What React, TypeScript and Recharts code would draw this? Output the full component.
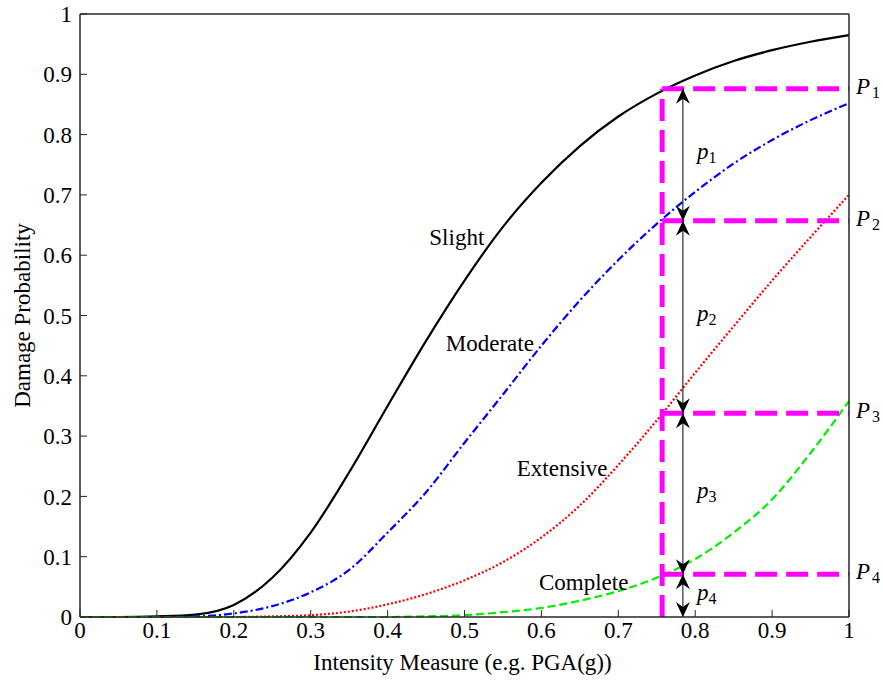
import React from 'react';
import { LineChart, Line, XAxis, YAxis, ReferenceLine, ReferenceDot, Label } from 'recharts';

// intensity measure samples (g)
const pga = [0, 0.05, 0.1, 0.15, 0.2, 0.25, 0.3, 0.35, 0.4, 0.45, 0.5, 0.55, 0.6, 0.65, 0.7, 0.75, 0.8, 0.85, 0.9, 0.95, 1];
const slight = [0, 0, 0.001, 0.004, 0.02, 0.065, 0.14, 0.24, 0.35, 0.458, 0.558, 0.647, 0.72, 0.781, 0.83, 0.868, 0.898, 0.922, 0.94, 0.954, 0.965];
const moderate = [0, 0, 0, 0.001, 0.006, 0.018, 0.041, 0.078, 0.14, 0.207, 0.289, 0.369, 0.45, 0.525, 0.592, 0.652, 0.705, 0.752, 0.791, 0.824, 0.852];
const extensive = [0, 0, 0, 0, 0, 0.001, 0.003, 0.009, 0.021, 0.038, 0.061, 0.091, 0.132, 0.185, 0.252, 0.326, 0.405, 0.482, 0.558, 0.63, 0.7];
const complete = [0, 0, 0, 0, 0, 0, 0, 0, 0, 0.001, 0.003, 0.008, 0.015, 0.027, 0.043, 0.065, 0.096, 0.14, 0.195, 0.272, 0.358];

const xTicks = [0, 0.1, 0.2, 0.3, 0.4, 0.5, 0.6, 0.7, 0.8, 0.9, 1];
const yTicks = [0, 0.1, 0.2, 0.3, 0.4, 0.5, 0.6, 0.7, 0.8, 0.9, 1];

// cut at a given intensity: exceedance levels P1..P4
const cutX = 0.757;
const arrowX = 0.784;
const levels = [0.876, 0.657, 0.338, 0.071];
const levelNames = ['1', '2', '3', '4'];

// curve name labels
const curveNames = ['Slight', 'Moderate', 'Extensive', 'Complete'];
const curveNameX = [0.49, 0.533, 0.627, 0.655];
const curveNameY = [0.63, 0.454, 0.247, 0.058];

const FONT = '"Liberation Serif", "Times New Roman", serif';
const FS = 23;
const AXIS = '#262626';
const MAGENTA = '#ff00ff';

const data = pga.map((x, i) => ({
  x,
  slight: slight[i],
  moderate: moderate[i],
  extensive: extensive[i],
  complete: complete[i],
}));

const SerifTick = (p: any) => (
  <text
    x={p.x}
    y={p.y}
    dy={p.verticalAnchor === 'start' ? '0.71em' : '0.355em'}
    textAnchor={p.textAnchor}
    fontFamily={FONT}
    fontSize={FS}
    fill="#000"
  >
    {String(p.payload.value)}
  </text>
);

const arrowHead = (x: number, tipY: number, dir: number) => {
  // dir -1 = pointing up, 1 = pointing down
  const b = tipY - dir * 15;
  const n = tipY - dir * 10;
  return `M${x},${tipY} L${x - 7},${b} L${x},${n} L${x + 7},${b} Z`;
};

const ArrowShape = (props: any) => {
  const { x1, y1, y2, name } = props;
  const top = Math.min(y1, y2);
  const bot = Math.max(y1, y2);
  const mid = (top + bot) / 2;
  return (
    <g>
      <line x1={x1} y1={top} x2={x1} y2={bot} stroke="#000" strokeWidth={1} />
      <path d={arrowHead(x1, top, -1)} fill="#000" />
      <path d={arrowHead(x1, bot, 1)} fill="#000" />
      <text x={x1 + 14} y={mid + 4} fontFamily={FONT} fontSize={FS} fill="#000">
        <tspan fontStyle="italic">p</tspan>
        <tspan fontSize={16} dy={4}>{name}</tspan>
      </text>
    </g>
  );
};

const LevelShape = (props: any) => {
  const { x1, y1, x2, y2, name } = props;
  return (
    <g>
      <line x1={x1} y1={y1} x2={x2} y2={y2} stroke={MAGENTA} strokeWidth={5} strokeDasharray="22 9" />
      <text x={x2 + 7} y={y2 + 5} fontFamily={FONT} fontSize={FS} fill="#000">
        <tspan fontStyle="italic">P</tspan>
        <tspan fontSize={16} dy={4} dx={2}>{name}</tspan>
      </text>
    </g>
  );
};

export default function App() {
  return (
    <div style={{ position: 'fixed', left: 0, top: 0, background: '#fff', fontFamily: FONT }}>
      <LineChart width={883} height={681} data={data} margin={{ top: 13, right: 33, bottom: 0, left: 0 }}>
        <XAxis
          type="number"
          dataKey="x"
          domain={[0, 1]}
          ticks={xTicks}
          height={64}
          tickSize={-7}
          tickMargin={12}
          axisLine={{ stroke: AXIS, strokeWidth: 1.5 }}
          tickLine={{ stroke: AXIS }}
          tick={SerifTick}
        >
          <Label
            content={(p: any) => (
              <text x={p.viewBox.x + p.viewBox.width / 2 - 2} y={p.viewBox.y + 53} textAnchor="middle"
                fontFamily={FONT} fontSize={FS} fill="#000">
                Intensity Measure (e.g. PGA(g))
              </text>
            )}
          />
        </XAxis>
        <XAxis
          xAxisId="top"
          orientation="top"
          type="number"
          dataKey="x"
          domain={[0, 1]}
          ticks={xTicks}
          height={1}
          tickSize={-7}
          tick={false}
          axisLine={{ stroke: AXIS, strokeWidth: 1.5 }}
          tickLine={{ stroke: AXIS }}
        />
        <YAxis
          type="number"
          domain={[0, 1]}
          ticks={yTicks}
          width={80}
          tickSize={-7}
          tickMargin={15}
          axisLine={{ stroke: AXIS, strokeWidth: 1.5 }}
          tickLine={{ stroke: AXIS }}
          tick={SerifTick}
        >
          <Label
            content={(p: any) => {
              const cy = p.viewBox.y + p.viewBox.height / 2;
              return (
                <text x={30} y={cy} textAnchor="middle" transform={`rotate(-90 30 ${cy})`}
                  fontFamily={FONT} fontSize={FS} fill="#000">
                  Damage Probability
                </text>
              );
            }}
          />
        </YAxis>
        <YAxis
          yAxisId="right"
          orientation="right"
          type="number"
          domain={[0, 1]}
          ticks={yTicks}
          width={1}
          tickSize={-7}
          tick={false}
          axisLine={{ stroke: AXIS, strokeWidth: 1.5 }}
          tickLine={{ stroke: AXIS }}
        />

        <Line dataKey="slight" type="monotone" stroke="#000" strokeWidth={2.2} dot={false} isAnimationActive={false} />
        <Line dataKey="moderate" type="monotone" stroke="#0000ff" strokeWidth={2.2} strokeDasharray="8 3 2 3" dot={false} isAnimationActive={false} />
        <Line dataKey="extensive" type="monotone" stroke="#ff0000" strokeWidth={2.2} strokeDasharray="2 2" dot={false} isAnimationActive={false} />
        <Line dataKey="complete" type="monotone" stroke="#00ee00" strokeWidth={2.2} strokeDasharray="8 4" dot={false} isAnimationActive={false} />

        <ReferenceLine
          segment={[{ x: cutX, y: 0 }, { x: cutX, y: levels[0] }]}
          stroke={MAGENTA}
          strokeWidth={5}
          strokeDasharray="22 9"
        />
        {levels.map((lv, i) => (
          <ReferenceLine
            key={'lv' + i}
            segment={[{ x: cutX, y: lv }, { x: 1, y: lv }]}
            shape={(p: any) => <LevelShape {...p} name={levelNames[i]} />}
          />
        ))}
        {levels.map((lv, i) => (
          <ReferenceLine
            key={'ar' + i}
            segment={[{ x: arrowX, y: lv }, { x: arrowX, y: i + 1 < levels.length ? levels[i + 1] : 0 }]}
            shape={(p: any) => <ArrowShape {...p} name={levelNames[i]} />}
          />
        ))}
        {curveNames.map((n, i) => (
          <ReferenceDot
            key={n}
            x={curveNameX[i]}
            y={curveNameY[i]}
            r={0}
            fill="none"
            stroke="none"
            label={{ value: n, position: 'center', fill: '#000', fontSize: FS, fontFamily: FONT }}
          />
        ))}
      </LineChart>
    </div>
  );
}
